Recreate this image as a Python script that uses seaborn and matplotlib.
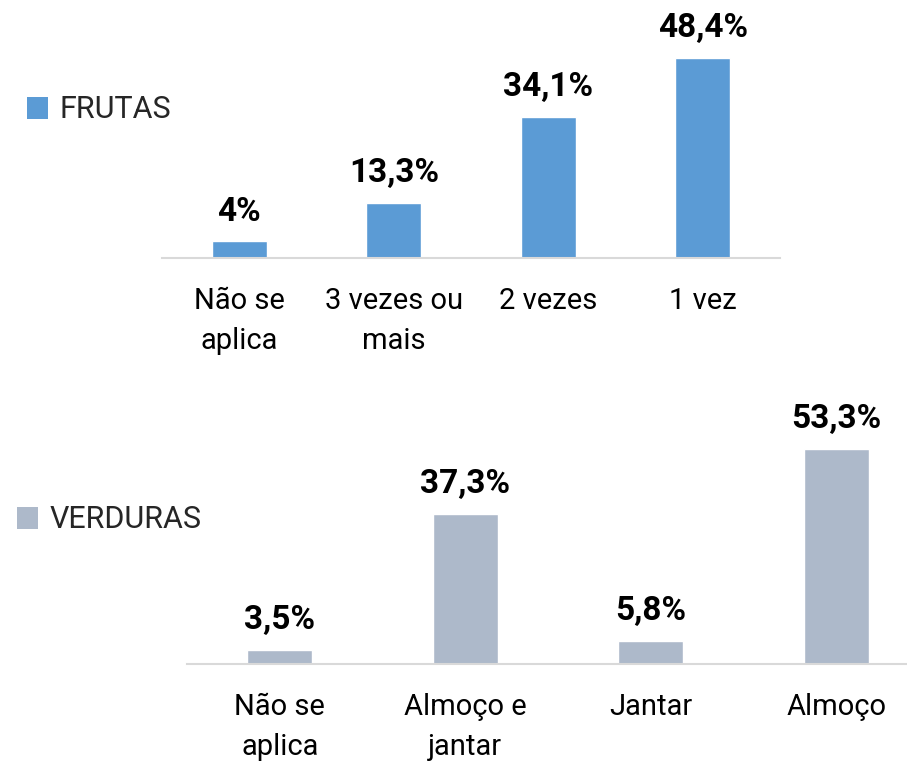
import matplotlib
matplotlib.use("Agg")
import matplotlib.pyplot as plt
from matplotlib.patches import Patch
import pandas as pd
import seaborn as sns

# data
frutas_cats = ["Não se\naplica", "3 vezes ou\nmais", "2 vezes", "1 vez"]
frutas_vals = [4.0, 13.3, 34.1, 48.4]
verduras_cats = ["Não se\naplica", "Almoço e\njantar", "Jantar", "Almoço"]
verduras_vals = [3.5, 37.3, 5.8, 53.3]

BLUE = "#5B9BD5"
GREY = "#ADB9CA"
W, H = 907, 763

sns.set_theme(style="white")
plt.rcParams["font.family"] = ["Roboto", "DejaVu Sans"]

fig = plt.figure(figsize=(W / 100, H / 100), dpi=100)


def px_axes(left, right, base, top):
    return fig.add_axes([left / W, 1 - base / H, (right - left) / W, (base - top) / H])


def fmt(v):
    return f"{v:g}".replace(".", ",") + "%"


def draw(ax, cats, vals, color, width, xlim, name, leg_xy):
    df = pd.DataFrame({"cat": cats, "val": vals})
    sns.barplot(data=df, x="cat", y="val", color=color, saturation=1,
                width=width, ax=ax)
    ax.bar_label(ax.containers[0], labels=[fmt(v) for v in vals],
                 padding=10, fontsize=24, fontweight="bold", color="black")
    ax.set_xlim(*xlim)
    ax.set_ylim(0, 60)
    ax.set_xlabel("")
    ax.set_ylabel("")
    ax.set_yticks([])
    for s in ["top", "left", "right"]:
        ax.spines[s].set_visible(False)
    ax.spines["bottom"].set_color("#D9D9D9")
    ax.spines["bottom"].set_linewidth(1.5)
    ax.tick_params(axis="x", length=0, pad=21, labelsize=21, labelcolor="black")
    for t in ax.get_xticklabels():
        t.set_linespacing(1.55)
    ax.patch.set_alpha(0)
    fig.legend(handles=[Patch(facecolor=color, edgecolor="none", label=name)],
               loc="center left", bbox_to_anchor=leg_xy, frameon=False,
               fontsize=22, handlelength=0.7, handleheight=0.7,
               handletextpad=0.35, borderpad=0, borderaxespad=0)


ax1 = px_axes(162, 780, 258, 258 - 60 * 4.13)
draw(ax1, frutas_cats, frutas_vals, BLUE, 0.355, (-0.5, 3.5), "FRUTAS",
     (27 / W, 1 - 110 / H))

ax2 = px_axes(187, 907, 664, 664 - 60 * 4.03)
draw(ax2, verduras_cats, verduras_vals, GREY, 0.35, (-0.5, 3.38), "VERDURAS",
     (17 / W, 1 - 520 / H))

fig.savefig("out.png", dpi=100, facecolor="white")
